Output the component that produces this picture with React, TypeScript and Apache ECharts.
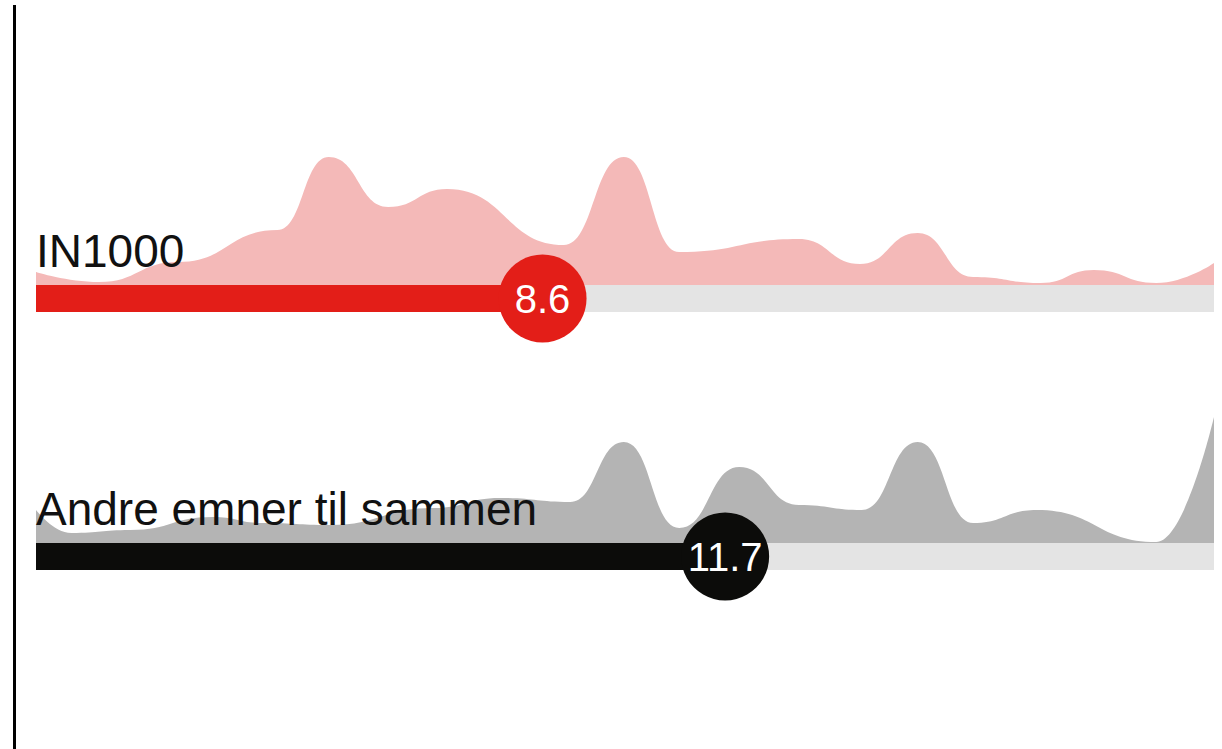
import React, { useEffect, useRef } from "react";
import * as echarts from "echarts";

const categories = ["IN1000", "Andre emner til sammen"];
const averages = [8.6, 11.7];
const scaleMin = 0;
const scaleMax = 20;

// distribution profile: [score, relative density]
const in1000Density: [number, number][] = [
  [0, 13], [1.07, 3], [2.41, 23], [4.1, 55], [4.97, 128],
  [5.98, 78], [6.98, 96], [8.96, 40], [9.98, 128], [10.92, 33], [12.95, 46],
  [13.99, 21], [14.97, 52], [15.91, 8], [17.06, 2], [17.96, 15], [19.02, 2],
  [20, 22],
];

const otherDensity: [number, number][] = [
  [0, 33], [0.6, 10], [1.6, 13], [3.0, 26], [3.85, 20], [4.99, 18], [6.74, 35],
  [7.88, 45], [9.07, 41], [9.98, 101], [10.92, 15], [11.94, 76], [12.95, 38],
  [14.02, 33], [14.97, 101], [15.91, 20], [16.99, 33], [19.02, 1],
  [20, 126],
];

const densities = [in1000Density, otherDensity];
const areaColors = ["#f4b9b8", "#b4b4b4"];
const barColors = ["#e31e18", "#0c0c0a"];
const trackColor = "#e4e4e4";

const LEFT = 36;
const WIDTH = 1178;
const AREA_H = 130;
const BAR_H = 27;
const baselines = [285, 543];

export default function App() {
  const ref = useRef<HTMLDivElement>(null);
  useEffect(() => {
    if (!ref.current) return;
    const chart = echarts.init(ref.current, undefined, { renderer: "svg" });
    const grids: any[] = [];
    const xAxes: any[] = [];
    const yAxes: any[] = [];
    const series: any[] = [];
    const graphics: any[] = [
      {
        type: "line",
        shape: { x1: 14.5, y1: 5, x2: 14.5, y2: 749 },
        style: { stroke: "#000", lineWidth: 3 },
        z: 100,
      },
    ];
    categories.forEach((cat, i) => {
      const base = baselines[i];
      const ga = i * 2;
      const gb = i * 2 + 1;
      grids.push({ left: LEFT, width: WIDTH, top: base - AREA_H, height: AREA_H });
      grids.push({ left: LEFT, width: WIDTH, top: base, height: BAR_H });
      xAxes.push({ type: "value", gridIndex: ga, min: scaleMin, max: scaleMax, show: false });
      xAxes.push({ type: "value", gridIndex: gb, min: scaleMin, max: scaleMax, show: false });
      yAxes.push({ type: "value", gridIndex: ga, min: 0, max: AREA_H, show: false });
      yAxes.push({ type: "category", gridIndex: gb, data: [cat], show: false });
      series.push({
        type: "line",
        xAxisIndex: ga,
        yAxisIndex: ga,
        data: densities[i],
        smooth: 0.5,
        smoothMonotone: "x",
        symbol: "none",
        lineStyle: { width: 0 },
        areaStyle: { color: areaColors[i], opacity: 1 },
        z: 1,
      });
      series.push({
        type: "bar",
        xAxisIndex: gb,
        yAxisIndex: gb,
        data: [averages[i]],
        barWidth: BAR_H,
        showBackground: true,
        backgroundStyle: { color: trackColor },
        itemStyle: { color: barColors[i] },
        z: 3,
      });
      series.push({
        type: "scatter",
        xAxisIndex: gb,
        yAxisIndex: gb,
        data: [[averages[i], 0]],
        symbol: "circle",
        symbolSize: 88,
        itemStyle: { color: barColors[i], opacity: 1 },
        label: {
          show: true,
          position: "inside",
          formatter: (p: any) => String(p.value[0]),
          color: "#fff",
          fontSize: 40,
          fontFamily: "Liberation Sans, Arial, sans-serif",
        },
        z: 10,
      });
      graphics.push({
        type: "text",
        left: LEFT,
        top: base - 57,
        z: 50,
        style: {
          text: cat,
          fontSize: 46,
          fontFamily: "Liberation Sans, Arial, sans-serif",
          fill: "#111",
        },
      });
    });
    chart.setOption({
      animation: false,
      backgroundColor: "#fff",
      grid: grids,
      xAxis: xAxes,
      yAxis: yAxes,
      series,
      graphic: graphics,
    });
    return () => chart.dispose();
  }, []);
  return (
    <div
      ref={ref}
      style={{ position: "fixed", left: 0, top: 0, width: 1222, height: 749 }}
    />
  );
}
